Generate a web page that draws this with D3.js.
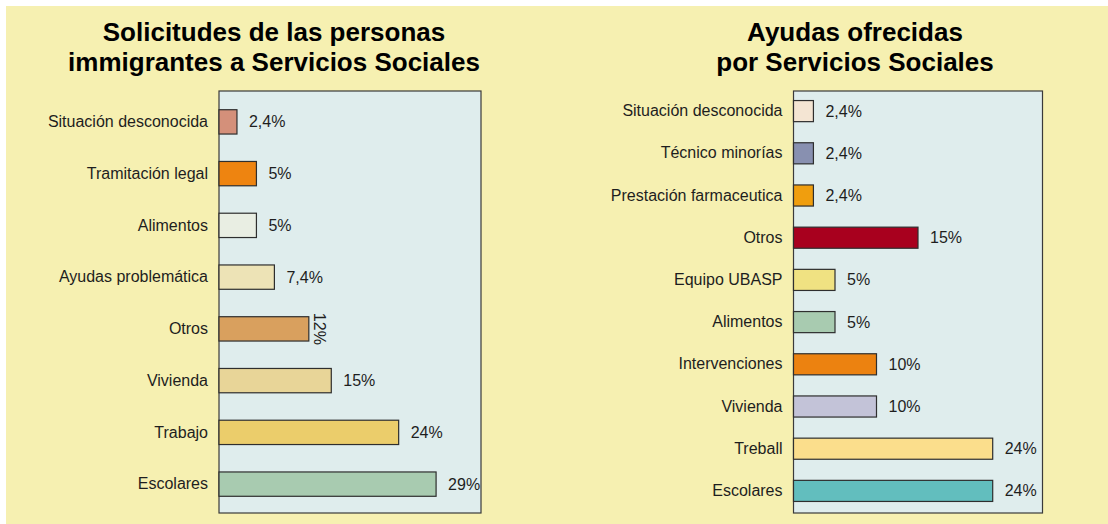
<!DOCTYPE html>
<html>
<head>
<meta charset="utf-8">
<script src="https://cdn.jsdelivr.net/npm/d3@7"></script>
<style>
  body { margin: 0; background: #fff; }
  svg text { font-family: "Liberation Sans", Arial, sans-serif; }
</style>
</head>
<body>
<div id="chart"></div>
<script>
// left chart: solicitudes
const solCategories = ["Situación desconocida", "Tramitación legal", "Alimentos", "Ayudas problemática",
  "Otros", "Vivienda", "Trabajo", "Escolares"]
const solValues = [2.4, 5, 5, 7.4, 12, 15, 24, 29]
const solColors = ["#d4907a", "#ee8410", "#e9eee3", "#ede3b6", "#d9a05e", "#e8d598", "#ebcd6b", "#a8cbb0"]
const solTitle = ["Solicitudes de las personas", "immigrantes a Servicios Sociales"]

// right chart: ayudas
const ayuCategories = ["Situación desconocida", "Técnico minorías", "Prestación farmaceutica", "Otros",
  "Equipo UBASP", "Alimentos", "Intervenciones", "Vivienda", "Treball", "Escolares"]
const ayuValues = [2.4, 2.4, 2.4, 15, 5, 5, 10, 10, 24, 24]
const ayuColors = ["#f4e5d3", "#8890b0", "#f09e0e", "#a8001e", "#f0e282", "#a8cbb0", "#ec8210", "#c3c3d8", "#fbde8c", "#62bebe"]
const ayuTitle = ["Ayudas ofrecidas", "por Servicios Sociales"]

width = 1108
height = 524

svg = d3.select("#chart").append("svg")
  .attr("width", width)
  .attr("height", height)

// yellow page background
svg.append("rect")
  .attr("x", 6).attr("y", 6)
  .attr("width", width - 6).attr("height", height - 6)
  .attr("fill", "#f6f0b1")

fmt = v => String(v).replace(".", ",") + "%"

function renderBarPanel(o) {
  const data = o.categories.map((c, i) => ({cat: c, value: o.values[i], color: o.colors[i]}))

  // title
  svg.append("text")
    .attr("text-anchor", "middle")
    .attr("font-weight", "bold")
    .attr("font-size", 26)
    .attr("fill", "#000")
    .selectAll("tspan")
    .data(o.title)
    .enter().append("tspan")
    .attr("x", o.titleX)
    .attr("y", (d, i) => 41 + i * 30)
    .text(d => d)

  x = d3.scaleLinear()
    .domain([0, o.max])
    .range([o.left, o.right])
  y = d3.scaleBand()
    .domain(o.categories)
    .range([o.bandTop, o.bandBottom])
    .paddingInner(o.pad)
    .paddingOuter(o.pad / 2)

  // plot area
  svg.append("rect")
    .attr("x", o.left).attr("y", 91)
    .attr("width", o.right - o.left).attr("height", 513 - 91)
    .attr("fill", "#dfeded")
    .attr("stroke", "#3a3a3a")
    .attr("stroke-width", 1.2)

  svg.append("g")
    .selectAll("rect")
    .data(data)
    .enter().append("rect")
    .attr("x", x(0))
    .attr("y", d => y(d.cat))
    .attr("width", d => x(d.value) - x(0))
    .attr("height", y.bandwidth())
    .attr("fill", d => d.color)
    .attr("stroke", "#2e2e2e")
    .attr("stroke-width", 1.2)

  // value labels
  svg.append("g")
    .selectAll("text")
    .data(data)
    .enter().append("text")
    .attr("font-size", 16)
    .attr("fill", "#1e1e1e")
    .attr("dominant-baseline", "central")
    .attr("text-anchor", d => d.cat === o.rotated ? "middle" : "start")
    .attr("transform", d => {
      const cx = x(d.value) + o.labelGap
      const cy = y(d.cat) + y.bandwidth() / 2
      return d.cat === o.rotated
        ? `translate(${cx - 1},${cy}) rotate(90)`
        : `translate(${cx},${cy})`
    })
    .text(d => fmt(d.value))

  // category axis
  const ax = svg.append("g")
    .attr("transform", `translate(${o.left},0)`)
    .call(d3.axisLeft(y).tickSize(0).tickPadding(11))
  ax.select(".domain").remove()
  ax.selectAll("text")
    .attr("font-size", 16)
    .attr("font-family", "'Liberation Sans', Arial, sans-serif")
    .attr("fill", "#1e1e1e")
}

renderBarPanel({
  categories: solCategories, values: solValues, colors: solColors, title: solTitle,
  titleX: 274, left: 219, right: 481, max: 35,
  bandTop: 96, bandBottom: 510, pad: 0.53, labelGap: 12, rotated: "Otros"
})

renderBarPanel({
  categories: ayuCategories, values: ayuValues, colors: ayuColors, title: ayuTitle,
  titleX: 855, left: 793.5, right: 1042.5, max: 30,
  bandTop: 90, bandBottom: 512, pad: 0.5, labelGap: 12, rotated: null
})
</script>
</body>
</html>
